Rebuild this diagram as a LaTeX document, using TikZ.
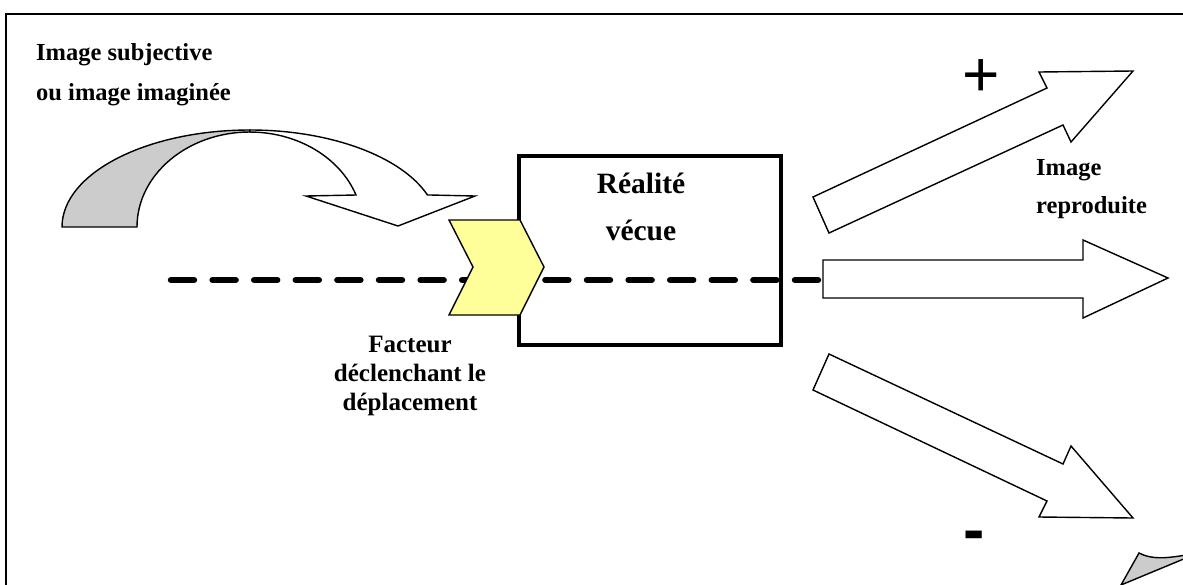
\documentclass[tikz,border=0pt]{standalone}
\usepackage{fontspec}
\setmainfont{Liberation Serif}
\newfontfamily\signfont{Liberation Sans}
\usetikzlibrary{positioning}
\definecolor{ChevronYellow}{RGB}{255, 255, 153}
\definecolor{BandGray}{RGB}{204, 204, 204}

\begin{document}
\begin{tikzpicture}[x=1pt, y=1pt,
    blockarrow/.style={draw=black, fill=white, line width=1.4pt, line join=miter},
    labeltext/.style={font=\bfseries\fontsize{24.5}{40}\selectfont, inner sep=0pt}]

    \useasboundingbox (0,0) rectangle (1183,-584);

    % --- Frame and corner piece (cut by the page) ---
    \begin{scope}
        \clip (0,0) rectangle (1183,-584);
        \draw[line width=2pt] (6,-14) rectangle (1200,-600);
        \draw[fill=BandGray, line width=1.4pt] (1121,-585) -- (1139,-553)
            .. controls (1152,-560) and (1168,-558) .. (1186,-555) -- (1186,-558) -- cycle;
    \end{scope}

    % --- Curved arrow (image subjective) ---
    % Back half
    \draw[fill=BandGray, line width=1.4pt] (62,-227)
        arc[start angle=180, end angle=90, x radius=188, y radius=97] -- (250,-132)
        arc[start angle=90, end angle=180, x radius=113, y radius=95] -- cycle;
    % Front half with head
    \draw[blockarrow] (250,-130)
        arc[start angle=90, end angle=19.3, x radius=188, y radius=97]
        -- (475,-196) -- (398,-226) -- (306,-196) -- (356,-195)
        arc[start angle=19.7, end angle=90, x radius=113, y radius=95] -- cycle;
    \node[labeltext, anchor=base west, align=left] (subjective) at (36,-100)
        {Image subjective\\ou image imaginée};

    % --- Box (reality) ---
    \node[draw, line width=4pt, minimum width=262pt, minimum height=189pt] (box) at (650,-250.5) {};
    \node[labeltext, font=\bfseries\fontsize{29.5}{47}\selectfont, anchor=base, align=center] (realite)
        at (641,-240) {Réalité\\vécue};

    % --- Dashed axis ---
    \coordinate (dashstart) at (171,-280);
    \coordinate (dashend) at (823,-280);
    \draw[line width=6.5pt, line cap=round, dash pattern=on 23pt off 18.6pt] (dashstart) -- (dashend);

    % --- Trigger (chevron) ---
    \draw[fill=ChevronYellow, line width=1.4pt] (449,-220) -- (520,-220) -- (544,-267)
        -- (520,-315) -- (449,-315) -- (473,-267) -- cycle;
    \node[labeltext, font=\bfseries\fontsize{25}{29}\selectfont, anchor=base, align=center] (facteur)
        at (410,-410) {Facteur\\déclenchant le\\déplacement};

    % --- Outgoing arrows ---
    \draw[blockarrow] (829,-233) -- (813,-197) -- (1047,-88) -- (1039,-72)
        -- (1133,-71) -- (1071,-142) -- (1063,-125) -- cycle; % up
    \draw[blockarrow] (823,-260) -- (1083,-260) -- (1083,-240) -- (1168,-278)
        -- (1083,-318) -- (1083,-298) -- (823,-298) -- cycle; % straight
    \draw[blockarrow] (829,-354) -- (813,-390) -- (1047,-501) -- (1039,-517)
        -- (1133,-518) -- (1071,-446) -- (1063,-464) -- cycle; % down

    \node[labeltext, font=\bfseries\fontsize{24.5}{38}\selectfont, anchor=base west, align=left] (reproduite)
        at (1036,-213) {Image\\reproduite};

    % Signs
    \node[inner sep=0pt, font=\signfont\fontsize{64}{64}\selectfont, anchor=base] (plus) at (981,-96) {+};
    \node[inner sep=0pt, font=\signfont\bfseries\fontsize{64}{64}\selectfont, anchor=base] (minus) at (974,-551) {-};

\end{tikzpicture}
\end{document}
